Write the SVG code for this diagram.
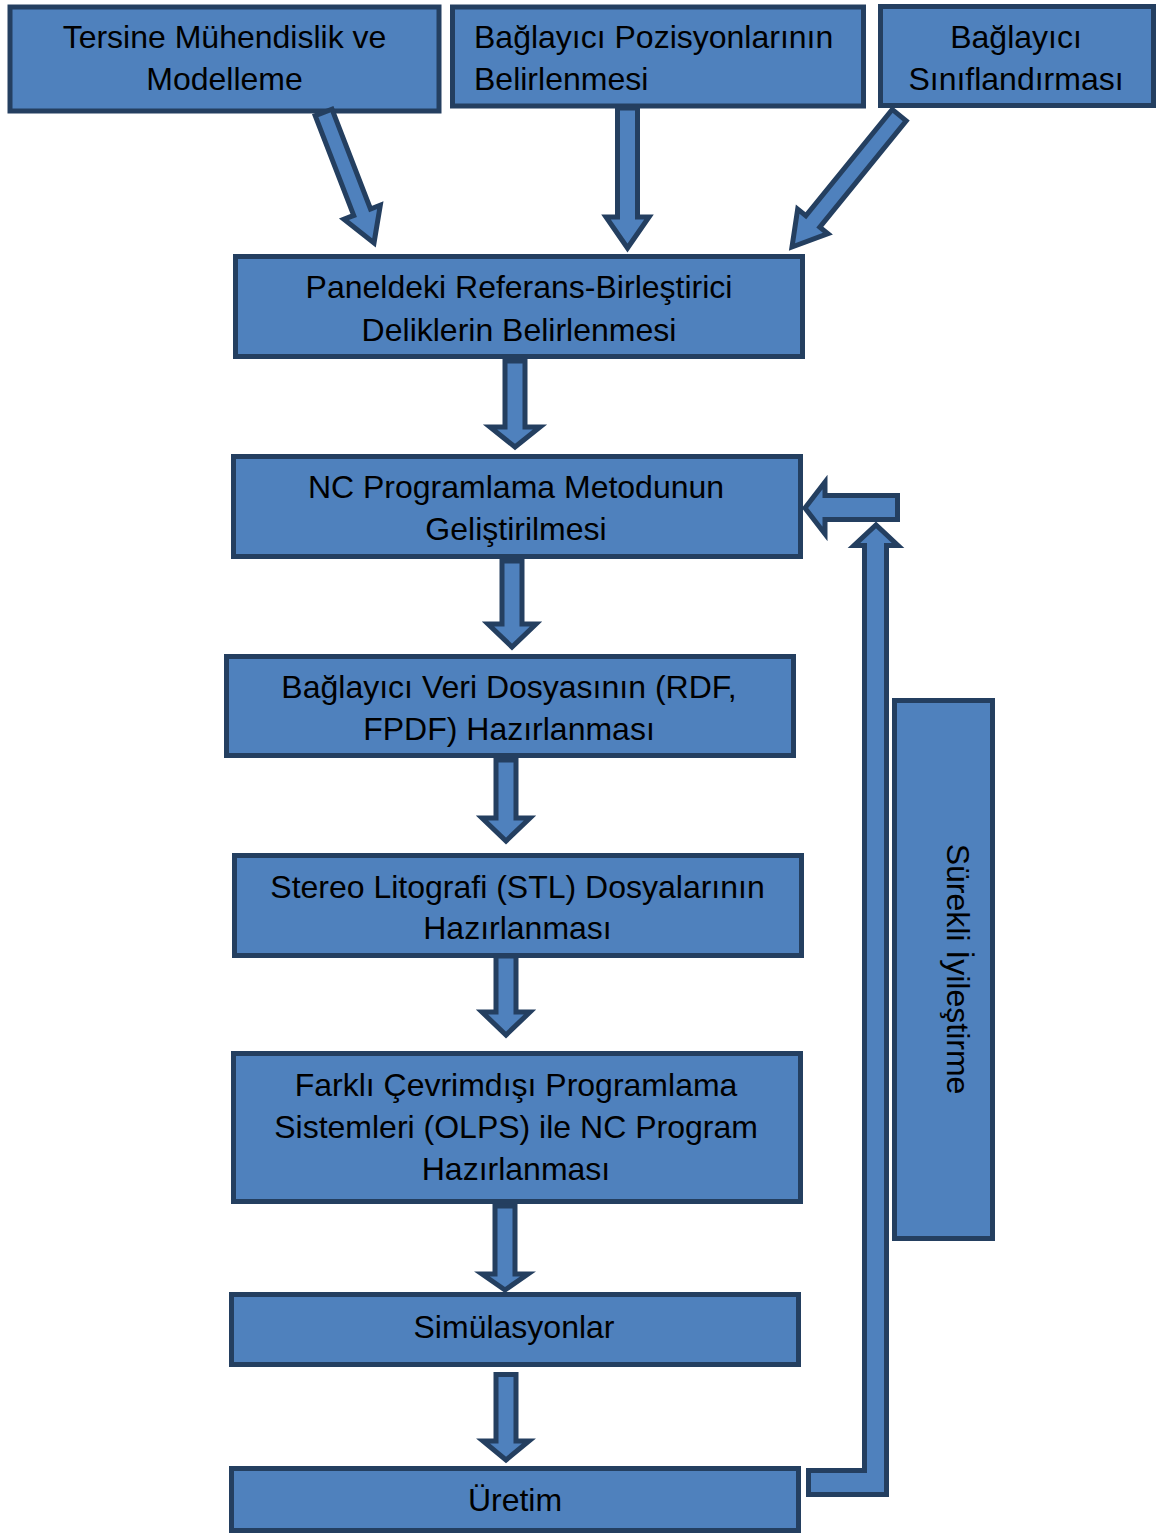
<svg xmlns="http://www.w3.org/2000/svg" width="1157" height="1533" viewBox="0 0 1157 1533">
<style>
.box{fill:#4F81BD;stroke:#243F60;stroke-width:5}
.arr{fill:#4F81BD;stroke:#243F60;stroke-width:5;stroke-linejoin:miter}
.t{font-family:"Liberation Sans",Arial,sans-serif;font-size:32px;fill:#000;text-anchor:middle}
.s{text-anchor:start}
</style>
<rect width="1157" height="1533" fill="#fff"/>
<g id="n1"><rect class="box" x="10" y="7" width="429" height="104"/><text class="t" x="224.5" y="48">Tersine Mühendislik ve</text><text class="t" x="224.5" y="90">Modelleme</text></g>
<g id="n2"><rect class="box" x="452.5" y="7" width="411" height="99"/><text class="t s" x="474" y="48">Bağlayıcı Pozisyonlarının</text><text class="t s" x="474" y="90">Belirlenmesi</text></g>
<g id="n3"><rect class="box" x="880.5" y="6.5" width="273" height="99"/><text class="t" x="1016" y="48">Bağlayıcı</text><text class="t" x="1016" y="90">Sınıflandırması</text></g>
<g id="n4"><rect class="box" x="235.5" y="256.5" width="567" height="100"/><text class="t" x="519" y="298">Paneldeki Referans-Birleştirici</text><text class="t" x="519" y="341">Deliklerin Belirlenmesi</text></g>
<g id="n5"><rect class="box" x="233.5" y="456.5" width="567" height="100"/><text class="t" x="516" y="498">NC Programlama Metodunun</text><text class="t" x="516" y="540">Geliştirilmesi</text></g>
<g id="n6"><rect class="box" x="226.5" y="656.5" width="567" height="99"/><text class="t" x="509" y="698">Bağlayıcı Veri Dosyasının (RDF,</text><text class="t" x="509" y="740">FPDF) Hazırlanması</text></g>
<g id="n7"><rect class="box" x="234.5" y="855.5" width="567" height="100"/><text class="t" x="517.5" y="898">Stereo Litografi (STL) Dosyalarının</text><text class="t" x="517.5" y="939">Hazırlanması</text></g>
<g id="n8"><rect class="box" x="233.5" y="1053.5" width="567" height="148"/><text class="t" x="516" y="1096">Farklı Çevrimdışı Programlama</text><text class="t" x="516" y="1138">Sistemleri (OLPS) ile NC Program</text><text class="t" x="516" y="1180">Hazırlanması</text></g>
<g id="n9"><rect class="box" x="231.5" y="1294.5" width="567" height="70"/><text class="t" x="514" y="1338">Simülasyonlar</text></g>
<g id="n10"><rect class="box" x="231.5" y="1468.5" width="567" height="62"/><text class="t" x="515" y="1511">Üretim</text></g>
<g id="n11"><rect class="box" x="894.5" y="700.5" width="98" height="538"/><text class="t" transform="translate(947,969) rotate(90)">Sürekli İyileştirme</text></g>
<g id="connectors">
<polygon class="arr" transform="translate(374,243) rotate(68.9)" points="0,0 -33,-19.5 -33,-9 -140,-9 -140,9 -33,9 -33,19.5"/>
<polygon class="arr" transform="translate(792,247) rotate(129.1)" points="0,0 -33,-19.5 -33,-9 -170,-9 -170,9 -33,9 -33,19.5"/>
<polygon class="arr" points="617.5,108 637.5,108 637.5,217 649,217 627.5,248 606,217 617.5,217"/>
<polygon class="arr" points="505,361 525,361 525,427 540,427 515,447 490,427 505,427"/>
<polygon class="arr" points="502,561 522,561 522,624 536,624 512,647 488,624 502,624"/>
<polygon class="arr" points="496,760 516,760 516,818 530,818 506,841 482,818 496,818"/>
<polygon class="arr" points="496,956 516,956 516,1012 530,1012 506,1035 482,1012 496,1012"/>
<polygon class="arr" points="495,1206 515,1206 515,1274 528,1274 505,1290 482,1274 495,1274"/>
<polygon class="arr" points="496,1374.5 516,1374.5 516,1441 529,1441 506,1460 483,1441 496,1441"/>
<polygon class="arr" points="808.5,1470.5 864.5,1470.5 864.5,545.5 854,545.5 876,525 898,545.5 886.5,545.5 886.5,1494.5 808.5,1494.5" stroke-linejoin="round"/>
<polygon class="arr" points="805,508 825,482 825,495.5 897.5,495.5 897.5,519.5 825,519.5 825,534"/>
</g>
</svg>
